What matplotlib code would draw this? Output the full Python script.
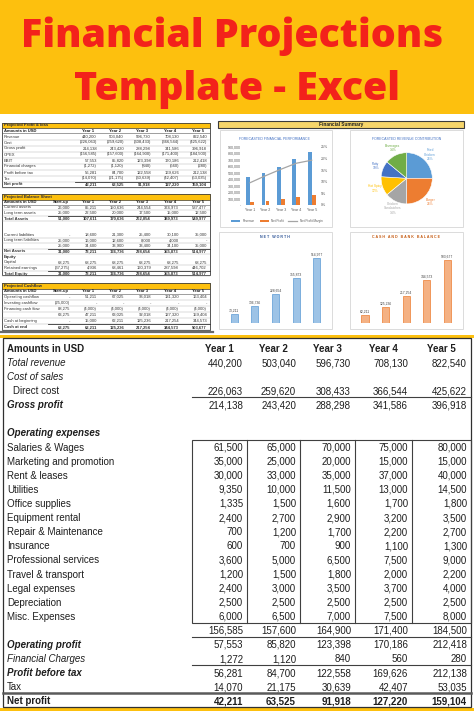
import matplotlib
matplotlib.use('Agg')
import matplotlib.pyplot as plt
from matplotlib import font_manager
from matplotlib.patches import Rectangle
from matplotlib.lines import Line2D

W, H = 474, 711
YELLOW = '#FDC00E'
RED = '#F3221B'
INK = '#1E1E1E'

title_lines = ['Financial Projections', 'Template - Excel']

# ---- main profit & loss table ----
years = ['Year 1', 'Year 2', 'Year 3', 'Year 4', 'Year 5']
row_labels = ['Total revenue', 'Cost of sales', 'Direct cost', 'Gross profit', '',
              'Operating expenses', 'Salaries & Wages', 'Marketing and promotion',
              'Rent & leases', 'Utilities', 'Office supplies', 'Equipment rental',
              'Repair & Maintenance', 'Insurance', 'Professional services',
              'Travel & transport', 'Legal expenses', 'Depreciation', 'Misc. Expenses',
              '', 'Operating profit', 'Financial Charges', 'Profit before tax', 'Tax',
              'Net profit']
row_style = ['i', 'i', 'indent', 'bi', '', 'bi', '', '', '', '', '', '', '', '', '',
             '', '', '', '', '', 'bi', 'i', 'bi', '', 'b']
row_values = [
    [440200, 503040, 596730, 708130, 822540],
    None,
    [226063, 259620, 308433, 366544, 425622],
    [214138, 243420, 288298, 341586, 396918],
    None,
    None,
    [61500, 65000, 70000, 75000, 80000],
    [35000, 25000, 20000, 15000, 15000],
    [30000, 33000, 35000, 37000, 40000],
    [9350, 10000, 11500, 13000, 14500],
    [1335, 1500, 1600, 1700, 1800],
    [2400, 2700, 2900, 3200, 3500],
    [700, 1200, 1700, 2200, 2700],
    [600, 700, 900, 1100, 1300],
    [3600, 5000, 6500, 7500, 9000],
    [1200, 1500, 1800, 2000, 2200],
    [2400, 3000, 3500, 3700, 4000],
    [2500, 2500, 2500, 2500, 2500],
    [6000, 6500, 7000, 7500, 8000],
    [156585, 157600, 164900, 171400, 184500],
    [57553, 85820, 123398, 170186, 212418],
    [1272, 1120, 840, 560, 280],
    [56281, 84700, 122558, 169626, 212138],
    [14070, 21175, 30639, 42407, 53035],
    [42211, 63525, 91918, 127220, 159104],
]

# ---- thumbnail sheets ----
mini_pl_labels = ['Revenue', 'Cost', 'Gross profit', 'OPEX', 'EBIT', 'Financial charges',
                  'Profit before tax', 'Tax', 'Net profit']
mini_pl_values = [
    [440200, 503040, 596730, 708130, 822540],
    [-226063, -259620, -308433, -366544, -425622],
    [214138, 243420, 288298, 341586, 396918],
    [-156585, -157600, -164900, -171400, -184500],
    [57553, 85820, 123398, 170186, 212418],
    [-1272, -1120, -840, -560, -280],
    [56281, 84700, 122558, 169626, 212138],
    [-14070, -21175, -30639, -42407, -53035],
    [42211, 63525, 91918, 127220, 159104],
]
bs_heads = ['Start-up', 'Year 1', 'Year 2', 'Year 3', 'Year 4', 'Year 5']
bs_labels = ['Current assets', 'Long term assets', 'Total Assets', '', '',
             'Current liabilities', 'Long term liabilities', '', 'Net Assets', 'Equity',
             'Capital', 'Retained earnings', 'Total Equity']
bs_values = [
    [26000, 85211, 150636, 244554, 374973, 537477],
    [25000, 22500, 20000, 17500, 15000, 12500],
    [51000, 107611, 170636, 262054, 389973, 549977],
    None,
    None,
    [0, 18600, 21300, 25400, 30100, 35000],
    [25000, 16000, 12600, 8000, 4000, 0],
    [25000, 34600, 33900, 33400, 34100, 35000],
    [31000, 73211, 136736, 228654, 355873, 514977],
    None,
    [68275, 68275, 68275, 68275, 68275, 68275],
    [-37275, 4936, 68461, 160379, 287598, 446702],
    [31000, 73211, 136736, 228654, 355873, 514977],
]
cf_labels = ['Operating cashflow', 'Investing cashflow', 'Financing cash flow', '',
             'Cash at beginning', 'Cash at end']
cf_values = [
    [0, 51211, 67025, 96018, 131320, 163404],
    [-25000, 0, 0, 0, 0, 0],
    [88275, -4000, -4000, -4000, -4000, -4000],
    [63275, 47211, 63025, 92018, 127320, 159404],
    [0, 15000, 62211, 125236, 217254, 344573],
    [63275, 62211, 125236, 217254, 344573, 503677],
]
mini_bold = ['Net profit', 'Total Assets', 'Net Assets', 'Equity', 'Total Equity', 'Cash at end']

# ---- dashboard charts ----
revenue = [440200, 503040, 596730, 708130, 822540]
net_profit = [42211, 63525, 91918, 127220, 159104]
margin_pct = [9.6, 12.6, 15.4, 18.0, 19.3]
pie_labels = ['Fried\nChicken\n25%', 'Burger\n25%', 'Chicken\nSandwiches\n14%',
              'Hot Spicy\n12%', 'Patty\n10%', 'Beverages\n14%']
pie_share = [25, 25, 14, 12, 10, 14]
pie_colors = ['#5B9BD5', '#ED7D31', '#A5A5A5', '#FFC000', '#4472C4', '#70AD47']
net_worth = [73211, 136736, 228654, 355873, 514977]
cash_balance = [62211, 125236, 217254, 344573, 503677]

names = {f.name for f in font_manager.fontManager.ttflist}
if 'Liberation Sans Narrow' in names:
    TFONT, TSIZE = 'Liberation Sans Narrow', 8.3
else:
    TFONT, TSIZE = 'Liberation Sans', 7.0
plt.rcParams['font.family'] = ['Liberation Sans', 'DejaVu Sans']

fig = plt.figure(figsize=(W / 100, H / 100), dpi=100)
ax = fig.add_axes([0, 0, 1, 1])
ax.set_xlim(0, W)
ax.set_ylim(H, 0)
ax.axis('off')


def px_axes(x0, y0, x1, y1):
    return fig.add_axes([x0 / W, 1 - y1 / H, (x1 - x0) / W, (y1 - y0) / H])


def hline(x0, x1, y, lw=0.8, c='#404040'):
    ax.add_line(Line2D([x0, x1], [y, y], lw=lw, color=c))


def fmt(v):
    if v == 0:
        return '-'
    return f'({-v:,})' if v < 0 else f'{v:,}'


# banner
ax.add_patch(Rectangle((0, 0), W, 114, fc=YELLOW, ec='none'))
t1 = ax.text(232, 47, title_lines[0], ha='center', va='baseline', color=RED,
             fontsize=30, family=['Open Sans', 'DejaVu Sans'], weight='heavy')
fig.canvas.draw()
fs = 30 * 423 / t1.get_window_extent().width
t1.set_fontsize(fs)
ax.text(237, 100, title_lines[1], ha='center', va='baseline', color=RED,
        fontsize=fs, family=['Open Sans', 'DejaVu Sans'], weight='heavy')

# ---- left thumbnail: spreadsheet blocks ----
MINI_RIGHT = [70, 97, 124, 151, 179, 207]


def mini_table(title, top, bottom, heads, labels, values, step):
    ax.add_patch(Rectangle((2, top), 208, bottom - top, fc='white', ec='#3A3A3A', lw=0.6))
    ax.add_patch(Rectangle((2, top), 208, 5.5, fc=YELLOW, ec='#3A3A3A', lw=0.5))
    ax.text(4, top + 2.9, title, fontsize=3.0, weight='bold', color='#2A2A3A', va='center')
    rights = MINI_RIGHT[-len(heads):]
    y = top + 8.0
    ax.text(4, y, 'Amounts in USD', fontsize=3.0, weight='bold', color=INK, va='center')
    for r, h in zip(rights, heads):
        ax.text(r - 9, y, h, fontsize=3.0, weight='bold', color=INK, va='center', ha='center')
    hline(2, 210, y + 2.8, lw=0.4, c='#555555')
    for i, (lab, vals) in enumerate(zip(labels, values)):
        yy = y + (i + 1) * step
        wt = 'bold' if lab in mini_bold else 'normal'
        ax.text(4, yy, lab, fontsize=3.0, weight=wt, color='#333333', va='center')
        if vals is None:
            continue
        for r, v in zip(rights, vals):
            ax.text(r, yy, fmt(v), fontsize=3.0, weight=wt, color='#333333',
                    va='center', ha='right')
        hline(2, 210, yy + step / 2, lw=0.25, c='#9A9A9A')
        if wt == 'bold':
            hline(rights[0] - 22, 210, yy - step / 2, lw=0.6, c='#333333')


mini_table('Projected Profit & loss', 122.5, 187, years, mini_pl_labels, mini_pl_values, 6.0)
mini_table('Projected Balance Sheet', 194, 275, bs_heads, bs_labels, bs_values, 5.5)
mini_table('Projected Cashflow', 283, 330, bs_heads, cf_labels, cf_values, 6.0)
hline(0, 213, 332, lw=1.6, c='#6A6A6A')

# ---- right thumbnail: financial summary dashboard ----
ax.add_patch(Rectangle((218, 120.5), 246, 7.5, fc='#F6D56A', ec='#3A3A3A', lw=0.8))
ax.text(341, 124.4, 'Financial Summary', fontsize=3.4, weight='bold', color=INK,
        ha='center', va='center')
for bx, by, bw, bh in [(220, 130, 112, 97), (350, 130, 113, 97),
                       (219, 232, 113, 97), (350, 232, 113, 97)]:
    ax.add_patch(Rectangle((bx, by), bw, bh, fc='white', ec='#D6D6D6', lw=0.6))

ax.text(275, 139, 'FORECASTED FINANCIAL PERFORMANCE', fontsize=2.5, color='#4472C4',
        ha='center', va='center')
ax.text(406.7, 139, 'FORECASTED REVENUE CONTRIBUTION', fontsize=2.5, color='#4472C4',
        ha='center', va='center')
ax.text(275, 237.5, 'N E T   W O R T H', fontsize=2.6, color='#2F5597', weight='bold',
        ha='center', va='center')
ax.text(406.5, 237.5, 'C A S H   A N D   B A N K   B A L A N C E', fontsize=2.6,
        color='#C55A11', weight='bold', ha='center', va='center')

xs = range(len(years))
small = dict(labelsize=2.6, labelcolor='#595959', length=0, pad=1)

a1 = px_axes(242.3, 147, 319.4, 205)
a1.bar([x - 0.13 for x in xs], revenue, width=0.24, color='#5B9BD5', label='Revenue')
a1.bar([x + 0.13 for x in xs], net_profit, width=0.24, color='#ED7D31', label='Net Profit')
a1.set_ylim(0, 900000)
a1.set_xlim(-0.5, 4.5)
a1.set_yticks(range(0, 900001, 100000))
a1.set_yticklabels(['-'] + [f'{v:,}' for v in range(100000, 900001, 100000)])
a1.set_xticks(list(xs))
a1.set_xticklabels(years)
a1.tick_params(**small)
a1.tick_params(axis='x', pad=2)
a1b = a1.twinx()
a1b.plot(list(xs), margin_pct, color='#A5A5A5', lw=0.9, label='Net Profit Margin')
a1b.set_ylim(0, 25)
a1b.set_yticks(range(0, 26, 5))
a1b.set_yticklabels([f'{v}%' for v in range(0, 26, 5)])
a1b.tick_params(**small)
for a in (a1, a1b):
    for s in a.spines.values():
        s.set_visible(False)
h1, l1 = a1.get_legend_handles_labels()
h2, l2 = a1b.get_legend_handles_labels()
a1.legend(h1 + h2, l1 + l2, loc='upper center', bbox_to_anchor=(0.45, -0.2), ncol=3,
          fontsize=2.2, frameon=False, handlelength=3, columnspacing=1.5,
          labelcolor='#595959')

a2 = px_axes(374.7, 146.3, 438.7, 210.3)
wedges, texts = a2.pie(pie_share, colors=pie_colors, startangle=90, counterclock=False,
                       labels=pie_labels, labeldistance=1.3,
                       wedgeprops=dict(ec='white', lw=0.4),
                       textprops=dict(fontsize=2.3, ha='center', va='center',
                                      multialignment='center'))
for t, c in zip(texts, pie_colors):
    t.set_color(c)
a2.set_aspect('equal')


def bar_panel(x0, vals, face, edge):
    a = px_axes(x0, 250, x0 + 103, 323.3)
    a.bar(list(xs), vals, width=0.34, color=face, edgecolor=edge, lw=0.5)
    for x, v in zip(xs, vals):
        a.text(x, v + 12000, f'{v:,}', fontsize=2.4, color='#404040',
               ha='center', va='bottom')
    a.set_xlim(-0.5, 4.5)
    a.set_ylim(0, 580000)
    a.axis('off')


bar_panel(224, net_worth, '#9DC3E6', '#5B9BD5')
bar_panel(354.7, cash_balance, '#F4B183', '#ED7D31')

# ---- main table ----
ax.add_patch(Rectangle((0, 335.3), W, 2.2, fc=YELLOW, ec='none'))
ax.add_patch(Rectangle((0, 707.5), W, 4, fc=YELLOW, ec='none'))
ax.add_patch(Rectangle((3, 337.5), 468, 369.5, fc='none', ec='#303030', lw=0.9))

edges = [192, 247, 300, 355, 412, 471]
row_y0, row_h = 348, 14.1
base_off = 3.9  # baseline sits a little below the row centre
tkw = dict(fontsize=TSIZE, family=[TFONT, 'DejaVu Sans'], color=INK, va='baseline')


def yb(i):
    return row_y0 + (i + 0.5) * row_h


ax.text(7, row_y0 + base_off, 'Amounts in USD', weight='bold', **tkw)
for k, yr in enumerate(years):
    ax.text((edges[k] + edges[k + 1]) / 2, row_y0 + base_off, yr, weight='bold',
            ha='center', **tkw)

for i, (lab, st, vals) in enumerate(zip(row_labels, row_style, row_values)):
    y = row_y0 + (i + 1) * row_h + base_off
    wt = 'bold' if 'b' in st else 'normal'
    sty = 'italic' if 'i' in st and st != 'indent' else 'normal'
    x = 13 if st == 'indent' else 7
    ax.text(x, y, lab, weight=wt, style=sty, **tkw)
    if vals is None:
        continue
    for k, v in enumerate(vals):
        ax.text(edges[k + 1] - 4, y, f'{v:,}', ha='right',
                weight='bold' if st == 'b' else 'normal', **tkw)

hline(edges[0], edges[-1], yb(3))
ax.add_patch(Rectangle((edges[0], yb(6)), edges[-1] - edges[0], yb(19) - yb(6),
                       fc='none', ec='#404040', lw=0.8))
for e in edges[1:-1]:
    ax.add_line(Line2D([e, e], [yb(6), yb(19)], lw=0.8, color='#404040'))
hline(edges[0], edges[-1], yb(20))
hline(edges[0], edges[-1], yb(22))
hline(3, 471, yb(24), lw=1.8, c='#5A5A5A')

fig.savefig('out.png', dpi=100)
